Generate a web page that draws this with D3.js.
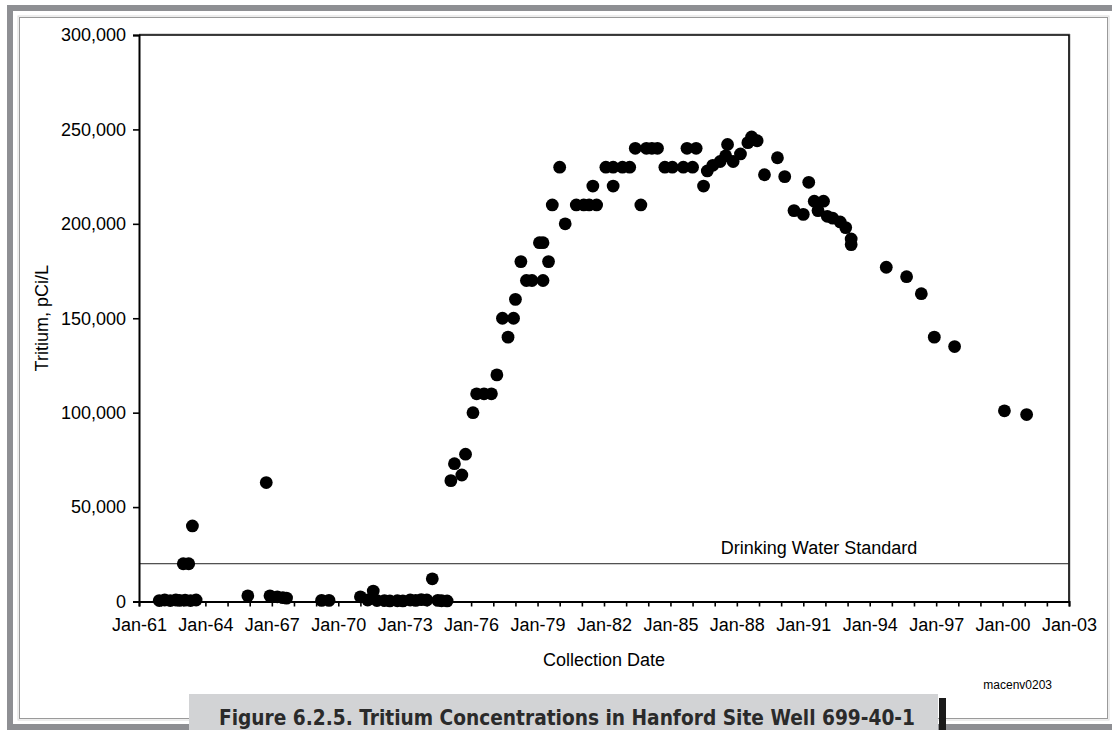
<!DOCTYPE html>
<html>
<head>
<meta charset="utf-8">
<script src="https://cdn.jsdelivr.net/npm/d3@7"></script>
<style>
  html, body { margin: 0; padding: 0; background: #fff; }
  svg { display: block; }
</style>
</head>
<body>
<svg id="chart" width="1112" height="730"></svg>
<script>
// ---- data ----
const sampleDates = [
  "1961-12","1962-03","1962-06","1962-09","1962-11","1963-01","1963-02","1963-04","1963-06","1963-05","1963-08",
  "1965-12","1966-10","1966-12","1967-04","1967-07","1967-09",
  "1969-04","1969-08",
  "1971-01","1971-08","1971-05","1971-10","1972-02","1972-05","1972-09","1972-12","1973-04","1973-07","1973-10","1974-01","1974-04","1974-07","1974-09","1974-12",
  "1975-02","1975-04","1975-08","1975-10","1976-02","1976-04","1976-08","1976-12","1977-03","1977-06","1977-09","1977-12",
  "1978-01","1978-04","1978-07","1978-10","1979-02","1979-04","1979-04","1979-07","1979-09","1980-01","1980-04","1980-10",
  "1981-02","1981-05","1981-07","1981-09","1982-02","1982-06","1982-06","1982-11","1983-03","1983-06","1983-09","1983-12",
  "1984-03","1984-06","1984-10","1985-02","1985-08","1985-10","1986-01","1986-03","1986-07","1986-09","1986-12",
  "1987-04","1987-07","1987-08","1987-11","1988-03","1988-07","1988-09","1988-12","1989-04","1989-11","1990-03","1990-08",
  "1991-01","1991-04","1991-07","1991-09","1991-12","1992-02","1992-05","1992-09","1992-12","1993-03","1993-03",
  "1994-10","1995-09","1996-05","1996-12","1997-11","2000-02","2001-02"
];
const tritiumValues = [
  500,800,500,800,600,20000,700,20000,40000,500,800,
  3000,63000,3000,2500,2000,1800,
  600,600,
  2500,5500,800,500,500,300,400,300,800,600,1000,800,12000,600,400,300,
  64000,73000,67000,78000,100000,110000,110000,110000,120000,150000,140000,150000,
  160000,180000,170000,170000,190000,170000,190000,180000,210000,230000,200000,210000,
  210000,210000,220000,210000,230000,230000,220000,230000,230000,240000,210000,240000,
  240000,240000,230000,230000,230000,240000,230000,240000,220000,228000,231000,
  233000,236000,242000,233000,237000,243000,246000,244000,226000,235000,225000,207000,
  205000,222000,212000,207000,212000,204000,203000,201000,198000,192000,189000,
  177000,172000,163000,140000,135000,101000,99000
];
const yTickValues = [0, 50000, 100000, 150000, 200000, 250000, 300000];
const xDomain = ["1961-01", "2003-01"];
const drinkingWaterStandard = 20000;
const standardLabel = "Drinking Water Standard";
const yTitle = "Tritium, pCi/L";
const xTitle = "Collection Date";
const sourceNote = "macenv0203";
const caption = "Figure 6.2.5.  Tritium Concentrations in Hanford Site Well 699-40-1";

// ---- setup ----
const parse = d3.timeParse("%Y-%m");
const points = sampleDates.map((d, i) => ({ date: parse(d), value: tritiumValues[i] }));
const svg = d3.select("#chart");
const font = "'Liberation Sans', Arial, sans-serif";
const fs = 18;
const plot = { left: 139, right: 1069, top: 35, bottom: 601.5 };

// outer frame
svg.append("rect").attr("x", 7).attr("y", 5).attr("width", 1105).attr("height", 6).attr("fill", "#8e8f93");
svg.append("rect").attr("x", 7).attr("y", 5).attr("width", 6).attr("height", 725).attr("fill", "#8e8f93");
svg.append("rect").attr("x", 7).attr("y", 724).attr("width", 1105).attr("height", 6).attr("fill", "#8e8f93");
svg.append("rect").attr("x", 19.5).attr("y", 17.5).attr("width", 1088).attr("height", 701)
  .attr("fill", "none").attr("stroke", "#9a9a9a").attr("stroke-width", 1);
svg.append("rect").attr("x", 18).attr("y", 16).attr("width", 1091).attr("height", 704)
  .attr("fill", "none").attr("stroke", "#dcdcdc").attr("stroke-width", 1);

const x = d3.scaleTime().domain(xDomain.map(parse)).range([plot.left, plot.right]);
const y = d3.scaleLinear().domain([0, 300000]).range([plot.bottom, plot.top]);

// plot border (top & right)
svg.append("path")
  .attr("d", `M${plot.left},${plot.top - 1}H${plot.right + 1}V${plot.bottom}`)
  .attr("fill", "none").attr("stroke", "#b0b0b0").attr("stroke-width", 1);
svg.append("path")
  .attr("d", `M${plot.left},${plot.top}H${plot.right}V${plot.bottom}`)
  .attr("fill", "none").attr("stroke", "#000").attr("stroke-width", 1.6);

// drinking water standard line
svg.append("line")
  .attr("x1", plot.left).attr("x2", plot.right)
  .attr("y1", y(drinkingWaterStandard)).attr("y2", y(drinkingWaterStandard))
  .attr("stroke", "#222").attr("stroke-width", 1);
svg.append("text")
  .attr("x", 819).attr("y", y(drinkingWaterStandard) - 10)
  .attr("text-anchor", "middle").attr("font-family", font).attr("font-size", fs)
  .attr("fill", "#000").text(standardLabel);

// points
svg.append("g").selectAll("circle").data(points).join("circle")
  .attr("cx", d => x(d.date)).attr("cy", d => y(d.value))
  .attr("r", 6.4).attr("fill", "#000");

// y axis
const yAxis = d3.axisLeft(y).tickValues(yTickValues).tickSize(6).tickPadding(7)
  .tickFormat(d3.format(","));
const gy = svg.append("g").attr("transform", `translate(${plot.left},0)`).call(yAxis);
gy.select(".domain").attr("stroke", "#000").attr("stroke-width", 2);
gy.selectAll(".tick line").attr("stroke", "#000").attr("stroke-width", 1.6);
gy.selectAll("text").attr("font-family", font).attr("font-size", fs).attr("fill", "#000");

// x axis
const yearTicks = d3.timeYear.range(parse("1961-01"), d3.timeDay.offset(parse("2003-01"), 1));
const labelFmt = d3.timeFormat("%b-%y");
const xAxis = d3.axisBottom(x).tickValues(yearTicks).tickSize(5).tickPadding(12)
  .tickFormat(d => ((d.getFullYear() - 1961) % 3 === 0 ? labelFmt(d) : ""));
const gx = svg.append("g").attr("transform", `translate(0,${plot.bottom})`).call(xAxis);
gx.select(".domain").attr("stroke", "#000").attr("stroke-width", 2);
gx.selectAll(".tick line").attr("stroke", "#000").attr("stroke-width", 1.6);
gx.selectAll("text").attr("font-family", font).attr("font-size", fs).attr("fill", "#000");

// titles
svg.append("text")
  .attr("transform", `translate(48,${(plot.top + plot.bottom) / 2}) rotate(-90)`)
  .attr("text-anchor", "middle").attr("font-family", font).attr("font-size", fs)
  .attr("fill", "#000").text(yTitle);
svg.append("text")
  .attr("x", (plot.left + plot.right) / 2).attr("y", 666)
  .attr("text-anchor", "middle").attr("font-family", font).attr("font-size", fs)
  .attr("fill", "#000").text(xTitle);
svg.append("text")
  .attr("x", 1052).attr("y", 689)
  .attr("text-anchor", "end").attr("font-family", font).attr("font-size", 12)
  .attr("fill", "#000").text(sourceNote);

// caption
svg.append("rect").attr("x", 189).attr("y", 694).attr("width", 749).attr("height", 36).attr("fill", "#d2d3d5");
svg.append("rect").attr("x", 939).attr("y", 698).attr("width", 7).attr("height", 32).attr("fill", "#1a1a1a");
svg.append("text")
  .attr("x", 567).attr("y", 725)
  .attr("text-anchor", "middle")
  .attr("font-family", "'Liberation Sans Narrow', 'DejaVu Sans Condensed', 'DejaVu Sans', sans-serif")
  .attr("font-weight", "bold").attr("font-size", 21)
  .attr("textLength", 696).attr("lengthAdjust", "spacingAndGlyphs")
  .attr("fill", "#2a2a2a").text(caption);
</script>
</body>
</html>
